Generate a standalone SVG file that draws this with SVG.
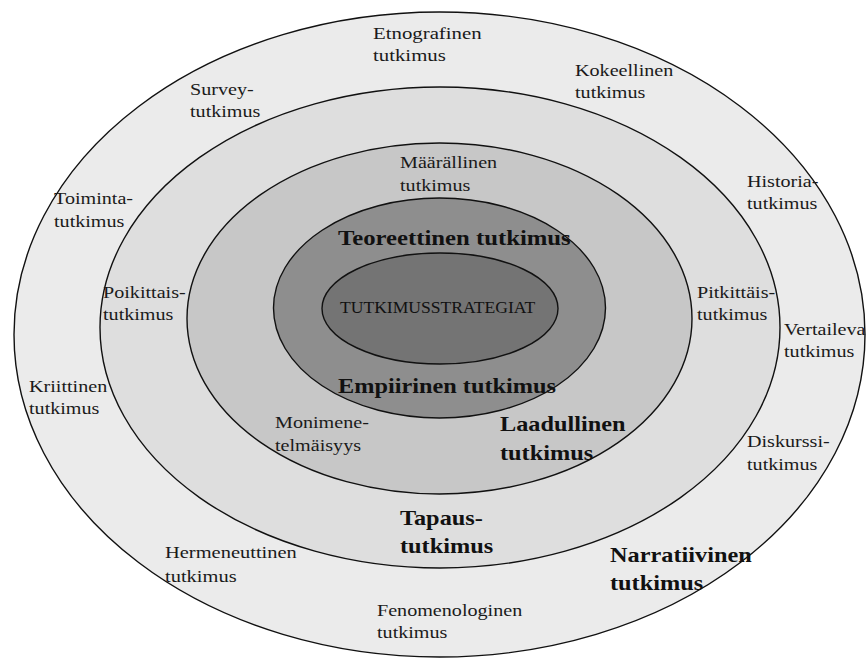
<svg xmlns="http://www.w3.org/2000/svg" width="866" height="658" viewBox="0 0 866 658">
  <style>
    .ring { stroke: #111; stroke-width: 1.4; }
    .r { font-family: "Liberation Serif", "Times New Roman", serif; font-size: 17.5px; fill: #1a1a1a; }
    .b { font-family: "Liberation Serif", "Times New Roman", serif; font-size: 21.5px; font-weight: bold; fill: #111; }
    .c { font-family: "Liberation Serif", "Times New Roman", serif; font-size: 16px; fill: #111; }
  </style>
  <rect width="866" height="658" fill="#ffffff"/>

  <!-- concentric layers, outermost first -->
  <g id="layers">
    <ellipse id="layer-methods" class="ring" cx="439.5" cy="334.5" rx="425.5" ry="322.5" fill="#ebebeb"/>
    <ellipse id="layer-designs" class="ring" cx="440" cy="327.5" rx="340" ry="240.5" fill="#dedede"/>
    <ellipse id="layer-approaches" class="ring" cx="439.5" cy="318.5" rx="252.5" ry="175.5" fill="#c7c7c7"/>
    <ellipse id="layer-research" class="ring" cx="439.5" cy="308" rx="166" ry="110" fill="#8e8e8e"/>
    <ellipse id="layer-core" class="ring" cx="440" cy="308.5" rx="118" ry="55.5" fill="#747474"/>
  </g>

  <!-- core -->
  <g id="tutkimusstrategiat" transform="translate(340 313) scale(1.1 1)">
    <text class="c" x="0" y="0">TUTKIMUSSTRATEGIAT</text>
  </g>

  <!-- fourth layer -->
  <g id="teoreettinen" transform="translate(338 245) scale(1.15 1)">
    <text class="b" x="0" y="0">Teoreettinen tutkimus</text>
  </g>
  <g id="empiirinen" transform="translate(338 393) scale(1.13 1)">
    <text class="b" x="0" y="0">Empiirinen tutkimus</text>
  </g>

  <!-- third layer -->
  <g id="maarallinen" transform="translate(400 168) scale(1.15 1)">
    <text class="r"><tspan x="0" y="0">Määrällinen</tspan><tspan x="0" y="23">tutkimus</tspan></text>
  </g>
  <g id="laadullinen" transform="translate(500 431) scale(1.13 1)">
    <text class="b"><tspan x="0" y="0">Laadullinen</tspan><tspan x="0" y="29">tutkimus</tspan></text>
  </g>
  <g id="monimenetelmaisyys" transform="translate(275 428) scale(1.15 1)">
    <text class="r"><tspan x="0" y="0">Monimene-</tspan><tspan x="0" y="23">telmäisyys</tspan></text>
  </g>

  <!-- second layer -->
  <g id="survey" transform="translate(190 95) scale(1.15 1)">
    <text class="r"><tspan x="0" y="0">Survey-</tspan><tspan x="0" y="22">tutkimus</tspan></text>
  </g>
  <g id="kokeellinen" transform="translate(575 76) scale(1.15 1)">
    <text class="r"><tspan x="0" y="0">Kokeellinen</tspan><tspan x="0" y="22">tutkimus</tspan></text>
  </g>
  <g id="poikittais" transform="translate(103 298) scale(1.15 1)">
    <text class="r"><tspan x="0" y="0">Poikittais-</tspan><tspan x="0" y="22">tutkimus</tspan></text>
  </g>
  <g id="pitkittais" transform="translate(697 298) scale(1.15 1)">
    <text class="r"><tspan x="0" y="0">Pitkittäis-</tspan><tspan x="0" y="22">tutkimus</tspan></text>
  </g>
  <g id="tapaus" transform="translate(400 525) scale(1.13 1)">
    <text class="b"><tspan x="0" y="0">Tapaus-</tspan><tspan x="0" y="28">tutkimus</tspan></text>
  </g>

  <!-- outer layer -->
  <g id="etnografinen" transform="translate(373 39) scale(1.19 1)">
    <text class="r"><tspan x="0" y="0">Etnografinen</tspan><tspan x="0" y="22">tutkimus</tspan></text>
  </g>
  <g id="toiminta" transform="translate(54 204) scale(1.15 1)">
    <text class="r"><tspan x="0" y="0">Toiminta-</tspan><tspan x="0" y="23">tutkimus</tspan></text>
  </g>
  <g id="historia" transform="translate(747 187) scale(1.15 1)">
    <text class="r"><tspan x="0" y="0">Historia-</tspan><tspan x="0" y="22">tutkimus</tspan></text>
  </g>
  <g id="vertaileva" transform="translate(784 335) scale(1.15 1)">
    <text class="r"><tspan x="0" y="0">Vertaileva</tspan><tspan x="0" y="22">tutkimus</tspan></text>
  </g>
  <g id="kriittinen" transform="translate(29 392) scale(1.15 1)">
    <text class="r"><tspan x="0" y="0">Kriittinen</tspan><tspan x="0" y="22">tutkimus</tspan></text>
  </g>
  <g id="diskurssi" transform="translate(747 447) scale(1.15 1)">
    <text class="r"><tspan x="0" y="0">Diskurssi-</tspan><tspan x="0" y="23">tutkimus</tspan></text>
  </g>
  <g id="hermeneuttinen" transform="translate(165 558) scale(1.17 1)">
    <text class="r"><tspan x="0" y="0">Hermeneuttinen</tspan><tspan x="0" y="24">tutkimus</tspan></text>
  </g>
  <g id="narratiivinen" transform="translate(610 562) scale(1.13 1)">
    <text class="b"><tspan x="0" y="0">Narratiivinen</tspan><tspan x="0" y="28">tutkimus</tspan></text>
  </g>
  <g id="fenomenologinen" transform="translate(377 616) scale(1.15 1)">
    <text class="r"><tspan x="0" y="0">Fenomenologinen</tspan><tspan x="0" y="22">tutkimus</tspan></text>
  </g>
</svg>
